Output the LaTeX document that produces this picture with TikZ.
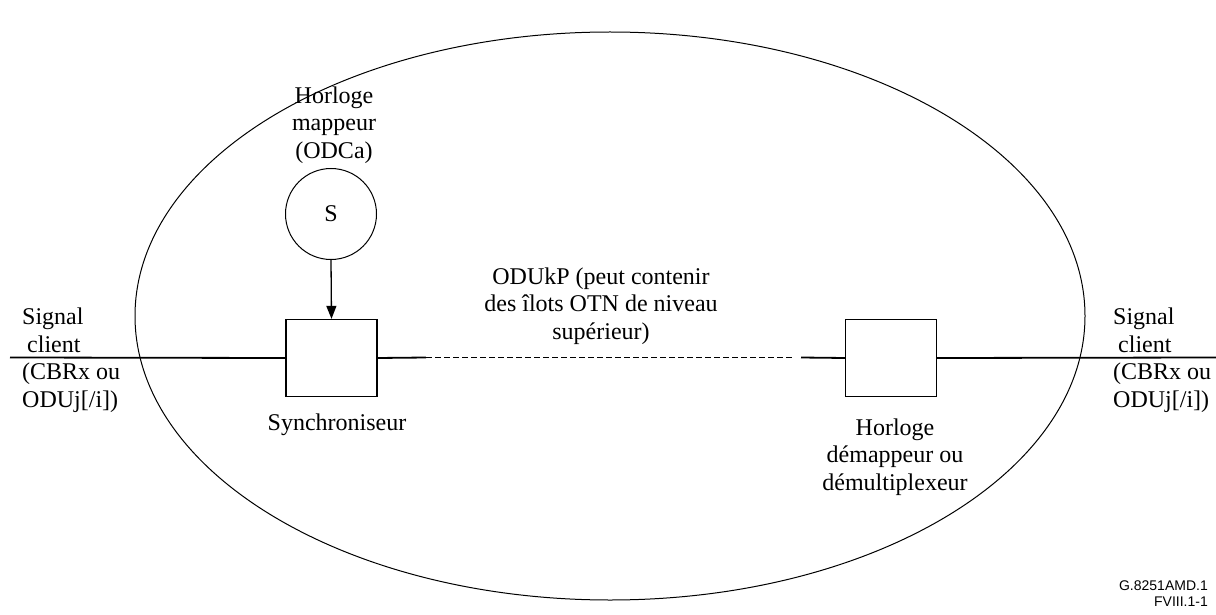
\documentclass[tikz,border=0pt]{standalone}
\usepackage{fontspec}
\setmainfont{Liberation Serif}
\newfontfamily\labelsans{Liberation Sans}
\usetikzlibrary{arrows.meta}
\begin{document}
\begin{tikzpicture}[x=1pt,y=-1pt,
  lbl/.style={font=\fontsize{24}{27.5}\selectfont, align=center, inner sep=0pt},
  blk/.style={draw, line width=1.3pt, minimum width=91pt, minimum height=77pt, inner sep=0pt},
  sig/.style={line width=1.8pt},
  clkc/.style={draw, circle, line width=1pt, minimum size=91pt, inner sep=0pt, font=\fontsize{24}{27.5}\selectfont}]
\useasboundingbox (0,0) rectangle (1216,615);
% ellipse
\draw[line width=1pt] (610,316) ellipse [x radius=475, y radius=284];
% nodes
\node[blk] (sync) at (331.5,358) {};
\node[blk] (demap) at (891,358) {};
\node[clkc] (clk) at (331,214) {S};
\coordinate (lin) at (10,357.5);
\coordinate (rin) at (1216,357.5);
\coordinate (d1) at (426,357.5);
\coordinate (d2) at (794,357.5);
\coordinate (d3) at (801,357.5);
% connectors
\draw[sig] (lin) -- (sync.west);
\draw[sig] (sync.east) -- (d1);
\draw[line width=1.3pt, dash pattern=on 6pt off 3pt] (d1) -- (d2);
\draw[sig] (d3) -- (demap.west);
\draw[sig] (demap.east) -- (rin);
\draw[line width=1.3pt, -{Triangle[length=13pt,width=10pt]}] (clk.south) -- (sync.north);
% labels
\node[lbl] (hm) at (334,125) {Horloge\\mappeur\\(ODCa)};
\node[lbl] (odu) at (601,306) {ODUkP (peut contenir\\des îlots OTN de niveau\\supérieur)};
\node[lbl] (syn) at (337,425) {Synchroniseur};
\node[lbl] (hd) at (895,457) {Horloge\\démappeur ou\\démultiplexeur};
\node[lbl, align=left, anchor=west] (sl) at (22,360) {Signal\\\hspace{5pt}client\\(CBRx ou\\ODUj[/i])};
\node[lbl, align=left, anchor=west] (sr) at (1113,360) {Signal\\\hspace{5pt}client\\(CBRx ou\\ODUj[/i])};
\node[inner sep=0pt, align=right, anchor=north east, font=\labelsans\fontsize{14}{16}\selectfont] (ref) at (1208,581) {G.8251AMD.1\\FVIII.1-1};
\end{tikzpicture}
\end{document}
